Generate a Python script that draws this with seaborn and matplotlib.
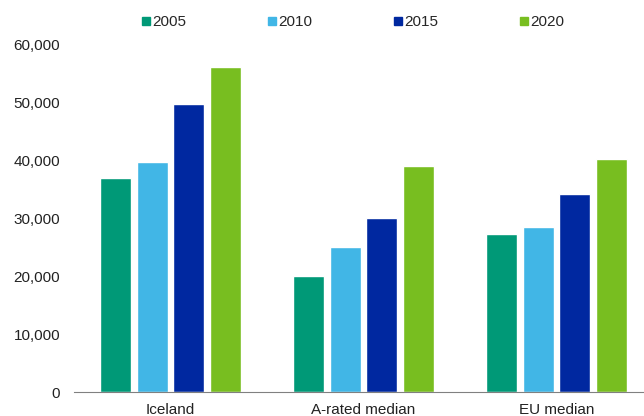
import matplotlib
matplotlib.use("Agg")
import matplotlib.pyplot as plt
from matplotlib.ticker import FuncFormatter, FixedLocator
import seaborn as sns
import pandas as pd

categories = ["Iceland", "A-rated median", "EU median"]
years = ["2005", "2010", "2015", "2020"]
v2005 = [36900, 20000, 27200]
v2010 = [39600, 25000, 28450]
v2015 = [49600, 30000, 34100]
v2020 = [56000, 38950, 40150]
colors = ["#009977", "#41b6e6", "#0028a0", "#78be20"]

rows = []
for yr, vals in zip(years, [v2005, v2010, v2015, v2020]):
    for c, v in zip(categories, vals):
        rows.append({"cat": c, "year": yr, "value": v})
df = pd.DataFrame(rows)

sns.set_style("white")
plt.rcParams["font.family"] = ["Liberation Sans", "DejaVu Sans"]

fig = plt.figure(figsize=(6.44, 4.16), dpi=100)
ax = fig.add_axes([74/644, 24/416, 579/644, 348/416])
sns.barplot(data=df, x="cat", y="value", hue="year", palette=colors,
            width=0.762, gap=0.156, ax=ax, legend=True, saturation=1)

ax.set_ylim(0, 60000)
ax.set_xlim(-0.5, 2.5)
ax.set_yticks(range(0, 60001, 10000))
ax.yaxis.set_major_formatter(FuncFormatter(lambda v, p: f"{int(v):,}"))
ax.set_xlabel("")
ax.set_ylabel("")
for s in ["top", "right", "left"]:
    ax.spines[s].set_visible(False)
ax.spines["bottom"].set_color("#808080")
ax.spines["bottom"].set_linewidth(0.8)
ax.tick_params(axis="y", length=0, labelsize=11, pad=10, colors="#222222")
ax.tick_params(axis="x", which="major", length=0, labelsize=11, pad=8, colors="#222222")
ax.xaxis.set_minor_locator(FixedLocator([-0.5, 0.5, 1.5, 2.5]))
ax.tick_params(axis="x", which="minor", length=3.5, color="#808080", width=0.8)

ax.get_legend().remove()
h = [plt.Line2D([], [], marker="s", linestyle="", markersize=5.2, color=c) for c in colors]
fig.legend(h, years, loc="center", bbox_to_anchor=(0.549, 0.947), ncol=4,
           frameon=False, fontsize=11, handlelength=0.5, handletextpad=0.15,
           columnspacing=5.37)

fig.savefig("out.png", dpi=100)
